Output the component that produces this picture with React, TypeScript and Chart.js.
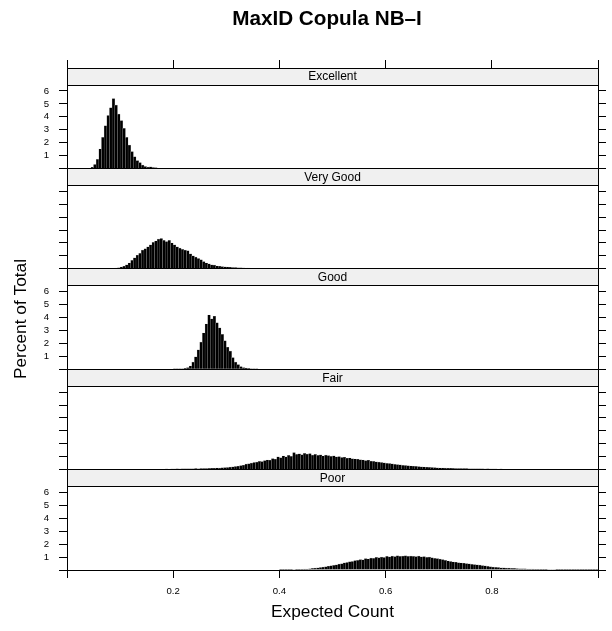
import React, { useEffect, useRef } from 'react';
import { Chart, registerables } from 'chart.js';
Chart.register(...registerables);

// ---------- data ----------
const TITLE = 'MaxID Copula NB–I';
const X_LABEL = 'Expected Count';
const Y_LABEL = 'Percent of Total';
const PANELS = ['Excellent', 'Very Good', 'Good', 'Fair', 'Poor'];
const BIN_WIDTH = 0.005;
const X_MIN = 0;
const X_MAX = 1;
const Y_MAX = 6.46;
const X_TICKS = [0, 0.2, 0.4, 0.6, 0.8, 1.0];
const X_TICK_LABELS = ['', '0.2', '0.4', '0.6', '0.8', ''];
const Y_TICKS = [0, 1, 2, 3, 4, 5, 6];
const Y_TICK_LABELS = ['', '1', '2', '3', '4', '5', '6'];

const excellentStart = 0.04;
const excellentPct = [
  0.02, 0.08, 0.3, 0.7, 1.5, 2.4, 3.3, 4.1, 4.7, 5.4,
  4.9, 4.2, 3.7, 3.1, 2.4, 1.8, 1.3, 0.9, 0.6, 0.45,
  0.25, 0.15, 0.1, 0.12, 0.06, 0.04, 0.03, 0.02, 0.01,
];

const veryGoodStart = 0.05;
const veryGoodPct = [
  0.01, 0.01, 0.01, 0.02, 0.02, 0.02, 0.03, 0.04, 0.05, 0.08,
  0.14, 0.2, 0.3, 0.45, 0.65, 0.85, 1.05, 1.2, 1.45, 1.55,
  1.7, 1.85, 2.05, 2.15, 2.3, 2.35, 2.2, 2.1, 2.2, 2.0,
  1.85, 1.7, 1.6, 1.5, 1.45, 1.4, 1.15, 1.0, 0.9, 0.8,
  0.7, 0.55, 0.45, 0.38, 0.3, 0.28, 0.22, 0.2, 0.17, 0.15,
  0.14, 0.12, 0.1, 0.1, 0.08, 0.07, 0.06, 0.05, 0.05, 0.04,
  0.03, 0.03, 0.03, 0.02, 0.02, 0.01,
];

const goodStart = 0.2;
const goodPct = [
  0.01, 0.01, 0.02, 0.03, 0.06, 0.12, 0.25, 0.55, 0.95, 1.5,
  2.1, 2.8, 3.5, 4.2, 3.9, 4.1, 3.6, 3.2, 2.7, 2.2,
  1.7, 1.4, 0.9, 0.55, 0.35, 0.2, 0.12, 0.08, 0.05, 0.03,
  0.02, 0.01,
];

const fairStart = 0.15;
const fairPct = [
  0.02, 0.02, 0.03, 0.02, 0.03, 0.03, 0.03, 0.04, 0.03, 0.04,
  0.04, 0.05, 0.04, 0.05, 0.05, 0.06, 0.05, 0.06, 0.07, 0.06,
  0.07, 0.08, 0.08, 0.09, 0.1, 0.1, 0.12, 0.11, 0.14, 0.15,
  0.16, 0.19, 0.21, 0.24, 0.26, 0.31, 0.34, 0.42, 0.45, 0.5,
  0.55, 0.58, 0.64, 0.62, 0.7, 0.74, 0.72, 0.85, 0.8, 0.98,
  0.92, 1.05, 0.98, 1.1, 1.02, 1.32, 1.18, 1.22, 1.15, 1.26,
  1.2, 1.24, 1.12, 1.18, 1.1, 1.14, 1.05, 1.12, 1.08, 1.02,
  1.06, 0.98, 1.0, 0.94, 0.96, 0.88, 0.9, 0.84, 0.82, 0.8,
  0.76, 0.74, 0.7, 0.72, 0.66, 0.64, 0.6, 0.58, 0.55, 0.52,
  0.48, 0.47, 0.44, 0.41, 0.38, 0.36, 0.33, 0.32, 0.3, 0.28,
  0.26, 0.25, 0.23, 0.21, 0.2, 0.18, 0.17, 0.16, 0.15, 0.13,
  0.12, 0.12, 0.11, 0.1, 0.1, 0.09, 0.08, 0.08, 0.07, 0.07,
  0.07, 0.06, 0.06, 0.05, 0.06, 0.05, 0.05, 0.04, 0.05, 0.04,
  0.04, 0.04, 0.03, 0.04, 0.03, 0.03, 0.03, 0.02, 0.03, 0.02,
  0.02, 0.02, 0.02, 0.02, 0.01, 0.02, 0.01, 0.01, 0.01, 0.01,
  0.01, 0.01, 0.01, 0.01, 0.01, 0.01, 0.01, 0.005, 0.005, 0.005,
];

const poorStart = 0.4;
const poorPct = [
  0.01, 0.01, 0.02, 0.02, 0.03, 0.04, 0.05, 0.05, 0.06, 0.07,
  0.08, 0.1, 0.12, 0.14, 0.16, 0.19, 0.22, 0.25, 0.29, 0.33,
  0.36, 0.4, 0.45, 0.48, 0.55, 0.58, 0.64, 0.66, 0.72, 0.75,
  0.8, 0.78, 0.88, 0.85, 0.92, 0.9, 0.98, 0.95, 1.0, 0.97,
  1.05, 1.02, 1.08, 1.04, 1.1, 1.06, 1.08, 1.1, 1.05, 1.08,
  1.06, 1.04, 1.07, 1.02, 1.03, 0.98, 1.0, 0.95, 0.9, 0.88,
  0.84, 0.8, 0.74, 0.7, 0.66, 0.62, 0.6, 0.56, 0.54, 0.52,
  0.49, 0.47, 0.44, 0.42, 0.4, 0.38, 0.34, 0.32, 0.28, 0.25,
  0.22, 0.2, 0.19, 0.17, 0.16, 0.15, 0.14, 0.13, 0.12, 0.11,
  0.1, 0.09, 0.09, 0.08, 0.08, 0.07, 0.06, 0.06, 0.05, 0.05,
  0.05, 0.04, 0.04, 0.04, 0.03, 0.03, 0.03, 0.03, 0.02, 0.03,
  0.02, 0.02, 0.02, 0.02, 0.02, 0.01, 0.01, 0.01, 0.01, 0.01,
];

const SERIES = [
  { start: excellentStart, values: excellentPct },
  { start: veryGoodStart, values: veryGoodPct },
  { start: goodStart, values: goodPct },
  { start: fairStart, values: fairPct },
  { start: poorStart, values: poorPct },
];

// ---------- layout ----------
const W = 612;
const H = 631;
const LEFT = 67;
const RIGHT = 598;
const TOP = 68;
const BOTTOM = 570;
const STRIP = 17;
const FONT = '"Liberation Sans", Arial, Helvetica, sans-serif';

Chart.defaults.font.family = FONT;
Chart.defaults.color = '#000';

const al = (v: number) => Math.round(v - 0.5) + 0.5;

function makeChart(canvas: HTMLCanvasElement, i: number) {
  const panelH = (BOTTOM - TOP) / PANELS.length;
  const stripTop = TOP + panelH * i;
  const plotTop = stripTop + STRIP;
  const plotBottom = stripTop + panelH;
  const first = i === 0;
  const last = i === PANELS.length - 1;
  const topAxisH = first ? STRIP + 8 : 0;
  const bottomAxisH = last ? 40 : 0;
  const leftAxisW = 34;
  const rightAxisW = 8;
  const s = SERIES[i];
  const data = s.values.map((v, k) => ({ x: s.start + (k + 0.5) * BIN_WIDTH, y: v }));

  const xTicks = (sc: any) => { sc.ticks = X_TICKS.map((v) => ({ value: v })); };
  const yTicks = (sc: any) => { sc.ticks = Y_TICKS.map((v) => ({ value: v })); };

  const stripPlugin = {
    id: 'strip' + i,
    afterDraw(chart: any) {
      const ctx = chart.ctx;
      ctx.save();
      const x0 = al(LEFT), x1 = al(RIGHT);
      const y0 = al(stripTop), y1 = al(plotTop), y2 = al(plotBottom);
      ctx.fillStyle = '#f0f0f0';
      ctx.fillRect(x0, y0, x1 - x0, y1 - y0);
      ctx.strokeStyle = '#000';
      ctx.lineWidth = 1;
      ctx.beginPath();
      ctx.rect(x0, y0, x1 - x0, y2 - y0);
      ctx.moveTo(x0, y1);
      ctx.lineTo(x1, y1);
      ctx.stroke();
      ctx.fillStyle = '#000';
      ctx.font = '12px ' + FONT;
      ctx.textAlign = 'center';
      ctx.textBaseline = 'middle';
      ctx.fillText(PANELS[i], (LEFT + RIGHT) / 2, stripTop + STRIP / 2 + 0.5);
      if (last) {
        ctx.font = 'bold 20.7px ' + FONT;
        ctx.textBaseline = 'alphabetic';
        ctx.fillText(TITLE, 327, 25);
        ctx.font = '17.3px ' + FONT;
        ctx.fillText(X_LABEL, (LEFT + RIGHT) / 2, 617);
        ctx.translate(26, (TOP + BOTTOM) / 2);
        ctx.rotate(-Math.PI / 2);
        ctx.fillText(Y_LABEL, 0, 0);
      }
      ctx.restore();
    },
  };

  const scales: any = {
    x: {
      type: 'linear', position: 'bottom', min: X_MIN, max: X_MAX, display: last,
      offset: false,
      afterBuildTicks: xTicks,
      afterFit: (sc: any) => { sc.height = bottomAxisH; },
      grid: { drawOnChartArea: false, offset: false, tickLength: 8, color: '#000' },
      border: { color: '#000' },
      ticks: {
        autoSkip: false, maxRotation: 0, padding: 8, color: '#000', font: { size: 9.6 },
        callback: (_v: any, idx: number) => X_TICK_LABELS[idx],
      },
    },
    y: {
      type: 'linear', position: 'left', min: 0, max: Y_MAX, bounds: 'data',
      afterBuildTicks: yTicks,
      afterFit: (sc: any) => { sc.width = leftAxisW; },
      grid: { drawOnChartArea: false, tickLength: 8, color: '#000' },
      border: { color: '#000' },
      ticks: {
        display: i % 2 === 0, autoSkip: false, padding: 10, color: '#000', font: { size: 9.6 },
        callback: (_v: any, idx: number) => Y_TICK_LABELS[idx],
      },
    },
    yRight: {
      type: 'linear', position: 'right', min: 0, max: Y_MAX, bounds: 'data',
      afterBuildTicks: yTicks,
      afterFit: (sc: any) => { sc.width = rightAxisW; },
      grid: { drawOnChartArea: false, tickLength: 8, color: '#000' },
      border: { color: '#000' },
      ticks: { display: false, autoSkip: false },
    },
  };
  if (first) {
    scales.xTop = {
      type: 'linear', position: 'top', min: X_MIN, max: X_MAX, offset: false,
      afterBuildTicks: xTicks,
      afterFit: (sc: any) => { sc.height = topAxisH; },
      grid: { drawOnChartArea: false, offset: false, tickLength: topAxisH, color: '#000' },
      border: { color: '#000' },
      ticks: { display: false, autoSkip: false },
    };
  }

  return new Chart(canvas, {
    type: 'bar',
    data: {
      datasets: [{
        data,
        backgroundColor: '#000',
        borderColor: '#9a9a9a',
        borderWidth: 0.4,
        barPercentage: 1,
        categoryPercentage: 1,
        xAxisID: 'x',
        yAxisID: 'y',
      }],
    },
    options: {
      animation: false,
      responsive: false,
      devicePixelRatio: 1,
      layout: {
        padding: {
          left: LEFT - leftAxisW,
          right: W - RIGHT - rightAxisW,
          top: plotTop - topAxisH,
          bottom: H - plotBottom - bottomAxisH,
        },
      },
      plugins: { legend: { display: false }, tooltip: { enabled: false }, title: { display: false } },
      scales,
    },
    plugins: [stripPlugin],
  } as any);
}

export default function App() {
  const refs = useRef<(HTMLCanvasElement | null)[]>([]);
  useEffect(() => {
    const charts = PANELS.map((_p, i) => makeChart(refs.current[i] as HTMLCanvasElement, i));
    return () => charts.forEach((c) => c.destroy());
  }, []);
  return (
    <div style={{ position: 'absolute', left: 0, top: 0, width: W, height: H, background: '#fff' }}>
      {PANELS.map((p, i) => (
        <canvas
          key={p}
          ref={(el) => { refs.current[i] = el; }}
          width={W}
          height={H}
          style={{ position: 'absolute', left: 0, top: 0, width: W, height: H }}
        />
      ))}
    </div>
  );
}
